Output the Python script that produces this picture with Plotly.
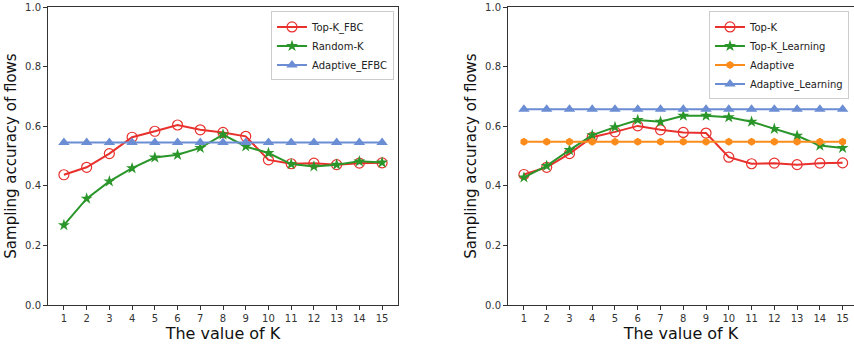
import plotly.graph_objects as go

K = list(range(1, 16))

# Left panel
topk_fbc = [0.437, 0.462, 0.508, 0.563, 0.583, 0.604, 0.588, 0.579, 0.566, 0.487, 0.474, 0.476, 0.471, 0.476, 0.477]
random_k = [0.268, 0.357, 0.415, 0.459, 0.495, 0.504, 0.527, 0.572, 0.532, 0.510, 0.473, 0.465, 0.471, 0.482, 0.478]
adaptive_efbc = [0.545] * 15

# Right panel
topk = [0.438, 0.462, 0.508, 0.563, 0.581, 0.601, 0.588, 0.579, 0.577, 0.496, 0.474, 0.476, 0.471, 0.476, 0.477]
topk_learning = [0.428, 0.467, 0.520, 0.570, 0.597, 0.621, 0.615, 0.635, 0.635, 0.630, 0.615, 0.591, 0.568, 0.535, 0.527]
adaptive = [0.548] * 15
adaptive_learning = [0.657] * 15

y_ticks = [0.0, 0.2, 0.4, 0.6, 0.8, 1.0]
y_tick_labels = ["0.0", "0.2", "0.4", "0.6", "0.8", "1.0"]

RED = "#e8302c"
GREEN = "#2a962a"
BLUE = "#6a8dd4"
ORANGE = "#fb8c1c"
FONT = "DejaVu Sans"

fig = go.Figure()

def add(x, y, name, color, symbol, size, xa, ya, legend):
    marker = dict(symbol=symbol, size=size, color=color)
    if symbol == "circle-open":
        marker["line"] = dict(width=1.2, color=color)
    fig.add_trace(go.Scatter(x=x, y=y, name=name, mode="lines+markers",
                             line=dict(color=color, width=2), marker=marker,
                             xaxis=xa, yaxis=ya, legend=legend))

add(K, topk_fbc, "Top-K_FBC", RED, "circle-open", 10, "x", "y", "legend")
add(K, random_k, "Random-K", GREEN, "star", 9, "x", "y", "legend")
add(K, adaptive_efbc, "Adaptive_EFBC", BLUE, "triangle-up", 10, "x", "y", "legend")

add(K, topk, "Top-K", RED, "circle-open", 10, "x2", "y2", "legend2")
add(K, topk_learning, "Top-K_Learning", GREEN, "star", 9, "x2", "y2", "legend2")
add(K, adaptive, "Adaptive", ORANGE, "hexagon", 8, "x2", "y2", "legend2")
add(K, adaptive_learning, "Adaptive_Learning", BLUE, "triangle-up", 10, "x2", "y2", "legend2")

W, H = 854, 345
axis_common = dict(showline=True, linecolor="#333", linewidth=1, mirror=True,
                   showgrid=False, zeroline=False, ticks="outside", ticklen=4,
                   tickcolor="#333", tickfont=dict(family=FONT, size=10, color="#333"))

xdom1 = [48 / W, 398 / W]
xdom2 = [508 / W, 1.0]

xtitle = dict(text="The value of K", font=dict(size=16, family=FONT, color="#111"), standoff=0)
ytitle = dict(text="Sampling accuracy of flows", font=dict(size=15, family=FONT, color="#111"), standoff=4)

fig.update_layout(
    width=W, height=H,
    margin=dict(l=0, r=0, t=7, b=40),
    plot_bgcolor="white", paper_bgcolor="white",
    font=dict(family=FONT, color="#222"),
    xaxis=dict(domain=xdom1, range=[0.3, 15.7], tickvals=K, anchor="y", title=xtitle, **axis_common),
    yaxis=dict(domain=[0, 1], range=[0, 1], tickvals=y_ticks, ticktext=y_tick_labels, anchor="x",
               title=ytitle, **axis_common),
    xaxis2=dict(domain=xdom2, range=[0.3, 15.5], tickvals=K, anchor="y2", title=xtitle, **axis_common),
    yaxis2=dict(domain=[0, 1], range=[0, 1], tickvals=y_ticks, ticktext=y_tick_labels, anchor="x2",
                title=ytitle, **axis_common),
    legend=dict(x=394 / W, y=0.985, xanchor="right", yanchor="top",
                bgcolor="white", bordercolor="#ccc", borderwidth=1, itemwidth=30,
                font=dict(family=FONT, size=10, color="#222"), tracegroupgap=0),
    legend2=dict(x=849 / W, y=0.985, xanchor="right", yanchor="top",
                 bgcolor="white", bordercolor="#ccc", borderwidth=1, itemwidth=30,
                 font=dict(family=FONT, size=10, color="#222"), tracegroupgap=0),
)

fig.write_html("out.html", config={"displayModeBar": False},
               post_script="document.body.style.margin='0px';document.body.style.overflow='hidden';")
